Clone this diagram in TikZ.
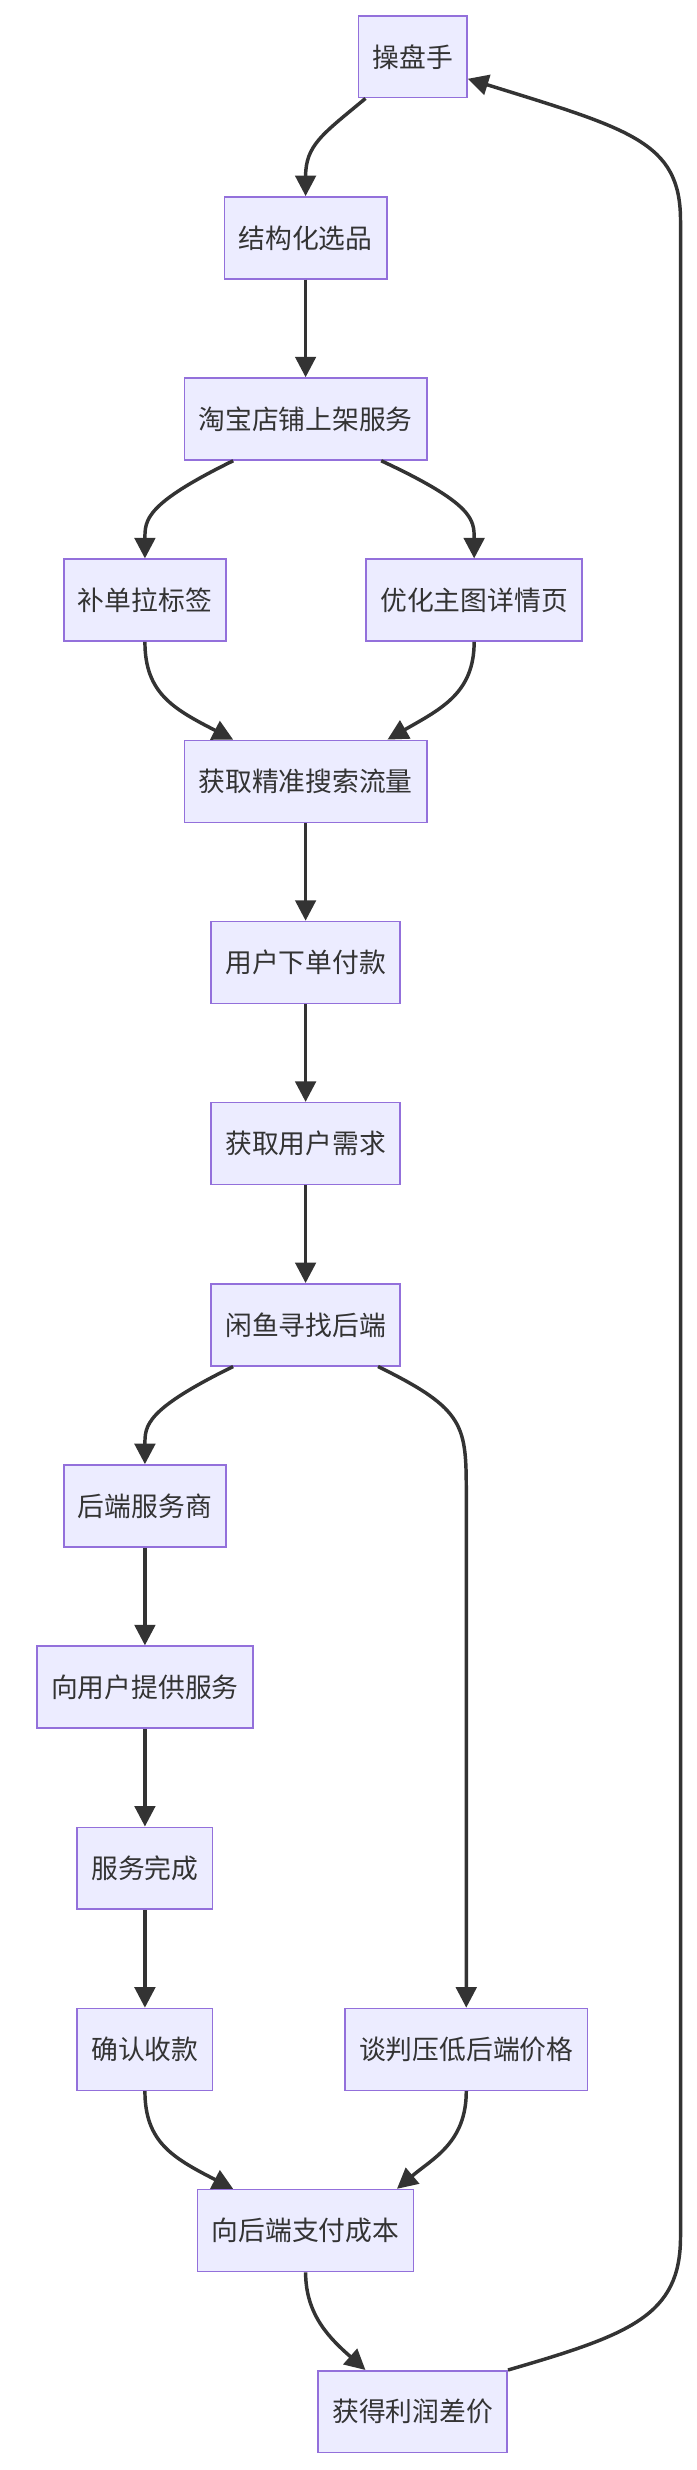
\documentclass[tikz,border=0pt]{standalone}
\usepackage{fontspec}
\setmainfont{Noto Sans CJK SC}
\usetikzlibrary{arrows.meta}
\definecolor{boxfill}{HTML}{ECECFF}
\definecolor{boxline}{HTML}{9370DB}
\definecolor{linkc}{HTML}{333333}
\tikzset{
  stage/.style={draw=boxline, fill=boxfill, line width=1pt, minimum height=52pt,
    inner xsep=9pt, font=\fontsize{17pt}{20pt}\selectfont, text=linkc},
  link/.style={draw=linkc, line width=2.2pt, -{Triangle[length=13pt,width=13pt]}}
}
\begin{document}
\begin{tikzpicture}[x=1pt,y=-1pt]
		\useasboundingbox (0,0) rectangle (442,1568);
		\draw (262,36) node [stage] (cp){操盘手};
		\draw (194,151) node [stage] (xp){结构化选品};
		\draw (194,266) node [stage] (sj){淘宝店铺上架服务};
		\draw (92,381) node [stage] (bd){补单拉标签};
		\draw (301,381) node [stage] (yh){优化主图详情页};
		\draw (194,496) node [stage] (ll){获取精准搜索流量};
		\draw (194,611) node [stage] (xd){用户下单付款};
		\draw (194,726) node [stage] (xq){获取用户需求};
		\draw (194,841) node [stage] (xy){闲鱼寻找后端};
		\draw (92,956) node [stage] (fws){后端服务商};
		\draw (92,1071) node [stage] (tg){向用户提供服务};
		\draw (92,1186) node [stage] (wc){服务完成};
		\draw (92,1301) node [stage] (sk){确认收款};
		\draw (296,1301) node [stage] (tp){谈判压低后端价格};
		\draw (194,1416) node [stage] (zf){向后端支付成本};
		\draw (262,1531) node [stage] (lr){获得利润差价};

		\draw[link] ([xshift=-30pt]cp.south) .. controls (205,85) and (194,92) .. (xp.north);
		\draw[link] (xp) -- (sj);
		\draw[link] ([xshift=-46pt]sj.south) .. controls (92,320) and (92,330) .. (bd.north);
		\draw[link] ([xshift=48pt]sj.south) .. controls (301,320) and (301,330) .. (yh.north);
		\draw[link] (bd.south) .. controls (92,440) and (110,450) .. ([xshift=-46pt]ll.north);
		\draw[link] (yh.south) .. controls (301,440) and (280,450) .. ([xshift=52pt]ll.north);
		\draw[link] (ll) -- (xd);
		\draw[link] (xd) -- (xq);
		\draw[link] (xq) -- (xy);
		\draw[link] ([xshift=-46pt]xy.south) .. controls (92,895) and (92,905) .. (fws.north);
		\draw[link] ([xshift=46pt]xy.south) .. controls (296,895) and (296,905) .. (296,950) -- (tp.north);
		\draw[link] (fws) -- (tg);
		\draw[link] (tg) -- (wc);
		\draw[link] (wc) -- (sk);
		\draw[link] (sk.south) .. controls (92,1360) and (110,1370) .. ([xshift=-46pt]zf.north);
		\draw[link] (tp.south) .. controls (296,1360) and (275,1370) .. ([xshift=58pt]zf.north);
		\draw[link] (zf.south) .. controls (194,1470) and (210,1485) .. ([xshift=-30pt]lr.north);
		\draw[link] (lr.north east) .. controls (400,1482) and (432,1470) .. (432,1420)
			-- (432,140) .. controls (432,90) and (400,82) .. ([yshift=-14pt]cp.east);
	\end{tikzpicture}
\end{document}
